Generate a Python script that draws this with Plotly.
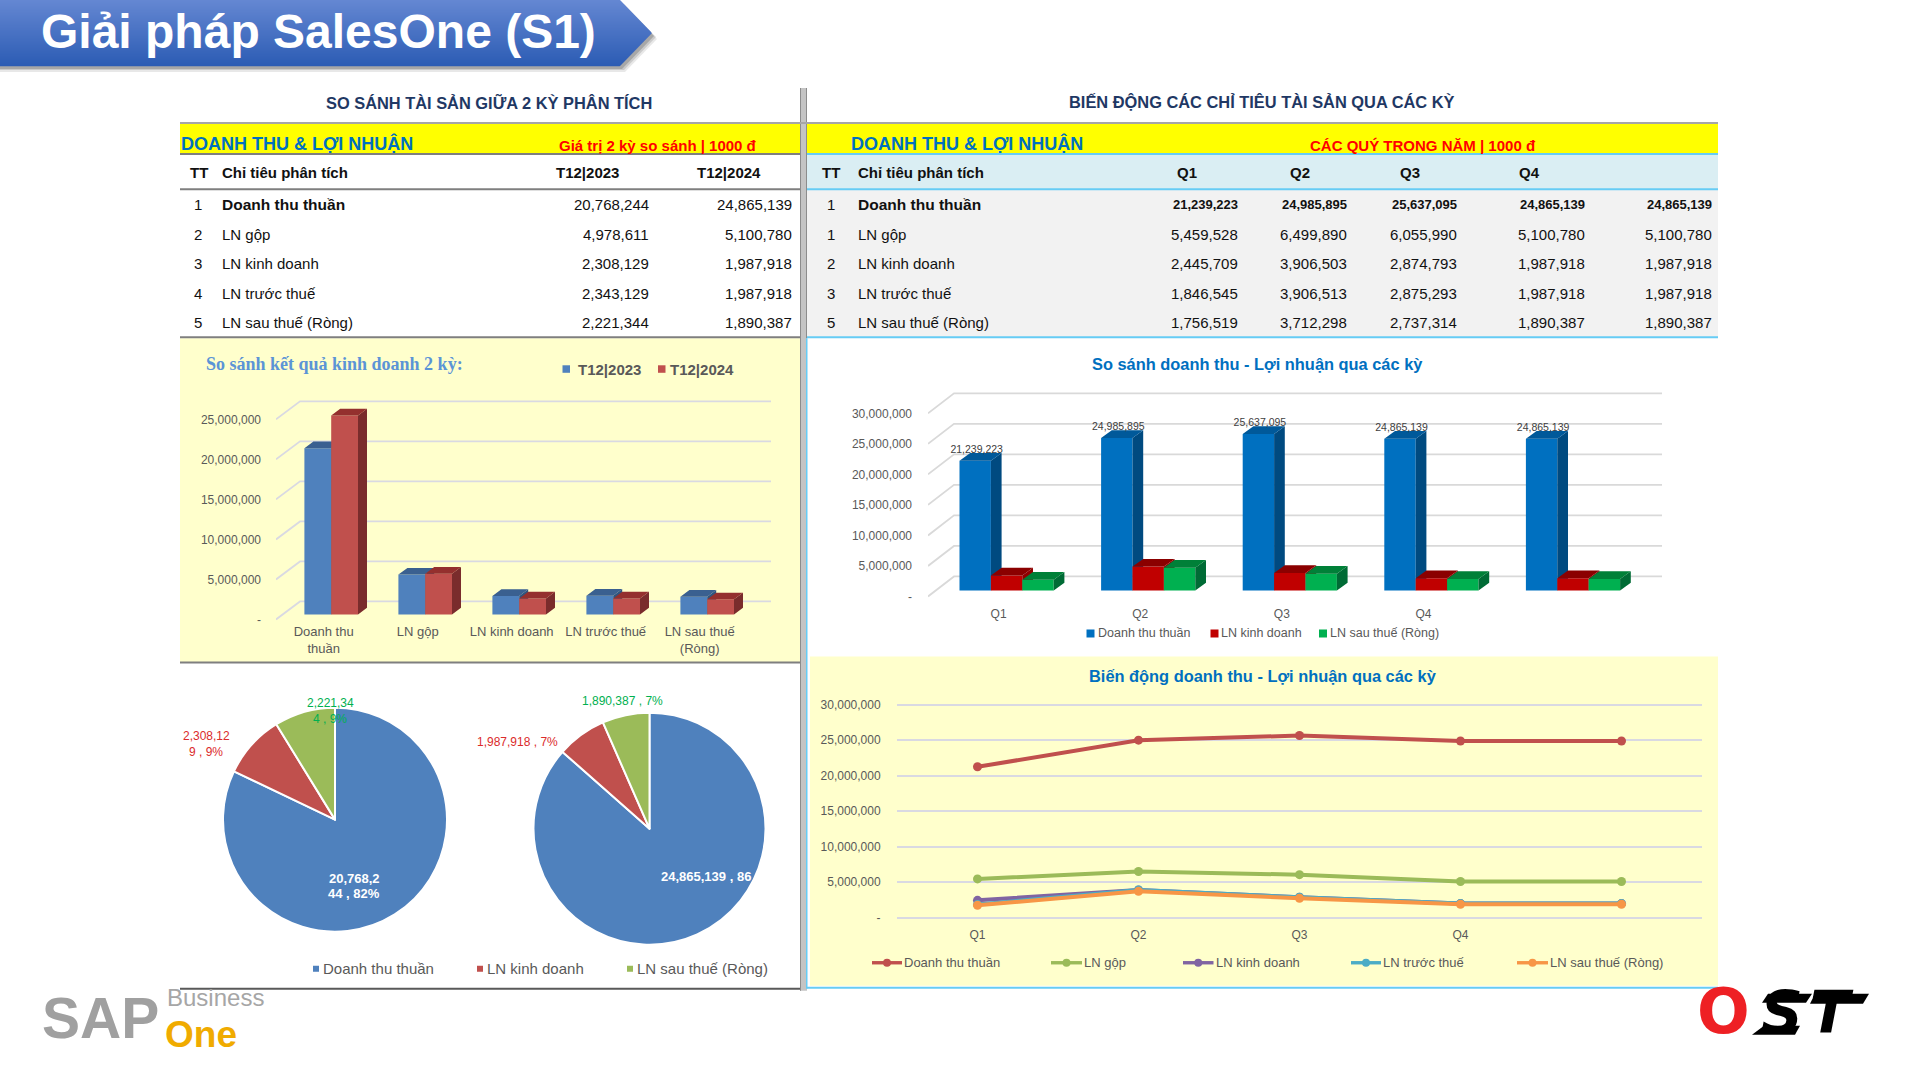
import plotly.graph_objects as go

# ---------- data ----------
PAGE_TITLE = "Giải pháp SalesOne (S1)"
LEFT_HEADING = "SO SÁNH TÀI SẢN GIỮA 2 KỲ PHÂN TÍCH"
RIGHT_HEADING = "BIẾN ĐỘNG CÁC CHỈ TIÊU TÀI SẢN QUA CÁC KỲ"
BAND_TITLE = "DOANH THU & LỢI NHUẬN"
LEFT_BAND_NOTE = "Giá trị 2 kỳ so sánh | 1000 đ"
RIGHT_BAND_NOTE = "CÁC QUÝ TRONG NĂM | 1000 đ"
METRICS = ["Doanh thu thuần", "LN gộp", "LN kinh doanh", "LN trước thuế", "LN sau thuế (Ròng)"]
LEFT_TT = ["1", "2", "3", "4", "5"]
RIGHT_TT = ["1", "1", "2", "3", "5"]
PERIODS = ["T12|2023", "T12|2024"]
T2023 = [20768244, 4978611, 2308129, 2343129, 2221344]
T2024 = [24865139, 5100780, 1987918, 1987918, 1890387]
QUARTERS = ["Q1", "Q2", "Q3", "Q4", ""]
DOANH_THU = [21239223, 24985895, 25637095, 24865139, 24865139]
LN_GOP = [5459528, 6499890, 6055990, 5100780, 5100780]
LN_KD = [2445709, 3906503, 2874793, 1987918, 1987918]
LN_TT = [1846545, 3906513, 2875293, 1987918, 1987918]
LN_ST = [1756519, 3712298, 2737314, 1890387, 1890387]
BAR_CATS = ["Doanh thu<br>thuần", "LN gộp", "LN kinh doanh", "LN trước thuế", "LN sau thuế<br>(Ròng)"]
TICKS_25 = [0, 5000000, 10000000, 15000000, 20000000, 25000000]
TICKS_30 = [0, 5000000, 10000000, 15000000, 20000000, 25000000, 30000000]
PIE_LABELS = ["Doanh thu thuần", "LN kinh doanh", "LN sau thuế (Ròng)"]
PIE_2023 = [20768244, 2308129, 2221344]
PIE_2024 = [24865139, 1987918, 1890387]
CHART_TITLE_A = "So sánh kết quả kinh doanh 2 kỳ:"
CHART_TITLE_B = "So sánh doanh thu - Lợi nhuận qua các kỳ"
CHART_TITLE_C = "Biến động doanh thu - Lợi nhuận qua các kỳ"

# ---------- helpers ----------
W, H = 1920, 1080
FONT = "Liberation Sans"
YS = 1.0045
def fx(x): return x / W
def fy(y): return 1 - y * YS / H
def fmt(v): return f"{v:,}"
def ticktext(vals): return ["-" if v == 0 else fmt(v) for v in vals]

shapes, annos = [], []
def rect(x0, y0, x1, y1, color, layer="below", opacity=1):
    shapes.append(dict(type="rect", xref="paper", yref="paper", x0=fx(x0), x1=fx(x1), y0=fy(y0), y1=fy(y1),
                       fillcolor=color, line=dict(width=0), layer=layer, opacity=opacity))
def hline(x0, x1, y, color, w=2):
    rect(x0, y - w / 2, x1, y + w / 2, color)
def txt(x, y, s, size=15, color="#111111", anchor="left", bold=False, family=FONT, italic=False):
    if bold: s = f"<b>{s}</b>"
    if italic: s = f"<i>{s}</i>"
    anchor = "center" if anchor == "middle" else anchor
    annos.append(dict(x=fx(x), y=fy(y), xref="paper", yref="paper", text=s, showarrow=False, xanchor=anchor,
                      yanchor="middle", borderpad=0, borderwidth=0, align=anchor,
                      font=dict(family=family, size=size, color=color)))
def poly(points, color, opacity=1, layer="below"):
    d = "M" + " L".join(f"{fx(px):.5f},{fy(py):.5f}" for px, py in points) + " Z"
    shapes.append(dict(type="path", xref="paper", yref="paper", path=d, fillcolor=color,
                       line=dict(width=0), opacity=opacity, layer=layer))

GRAY = "#7F7F7F"; SKY = "#66CCF5"; YEL = "#FFFFCC"

# ---------- banner ----------
def bx(y): return 652 - 32 * abs(y - 33) / 33
for ox, oy, op in [(5, 6, .12), (4, 4, .18), (2, 3, .25)]:
    poly([(0, oy), (620 + ox, oy), (652 + ox, 33 + oy), (620 + ox, 66 + oy), (0, 66 + oy)], "#404040", op)
c0, c1 = (100, 135, 210), (44, 92, 180)
for y in range(66):
    t = y / 65
    col = "rgb(%d,%d,%d)" % tuple(round(a + (b - a) * t) for a, b in zip(c0, c1))
    poly([(0, y), (bx(y), y), (bx(y + 1.3), y + 1.3), (0, y + 1.3)], col)
txt(41, 31, PAGE_TITLE, 48, "#FFFFFF", bold=True)

# ---------- panels ----------
rect(180, 124, 800, 153, "#FFFF00")
rect(807, 124, 1718, 153, "#FFFF00")
rect(807, 154, 1718, 189, "#DAEEF3")
rect(807, 189, 1718, 337, "#F2F2F2")
rect(180, 338, 800, 662, YEL)
rect(810, 656, 1718, 985, YEL)
rect(800, 88, 807, 990, "#C4C4C4")
rect(800, 88, 801, 990, "#8C8C8C")
rect(806, 88, 807, 338, "#8C8C8C")
rect(806, 338, 807.5, 988, SKY)
hline(180, 1718, 123, "#A6A6A6", 2)
hline(180, 800, 154, GRAY, 2)
hline(180, 800, 189, GRAY, 2)
hline(180, 800, 337, GRAY, 2)
hline(180, 800, 662, GRAY, 2)
hline(180, 800, 988, "#595959", 2)
hline(807, 1718, 154, SKY, 2)
hline(807, 1718, 189, SKY, 2)
hline(807, 1718, 337, SKY, 2)
hline(807, 1718, 987, SKY, 2)

# ---------- left table ----------
ROWS_Y = [204, 234, 263, 293, 322]
txt(489, 102, LEFT_HEADING, 16.4, "#1F3864", "middle", True)
txt(181, 143, BAND_TITLE, 18, "#0070C0", bold=True)
txt(559, 145, LEFT_BAND_NOTE, 15, "#FF0000", bold=True)
txt(199, 172, "TT", 15, anchor="middle", bold=True)
txt(222, 172, "Chỉ tiêu phân tích", 15, bold=True)
txt(587, 172, PERIODS[0], 15, anchor="middle", bold=True)
txt(729, 172, PERIODS[1], 15, anchor="middle", bold=True)
for i, y in enumerate(ROWS_Y):
    b = i == 0
    txt(198, y, LEFT_TT[i], 15, anchor="middle")
    txt(222, y, METRICS[i], 15.5 if b else 15, bold=b)
    txt(649, y, fmt(T2023[i]), 15, anchor="right")
    txt(792, y, fmt(T2024[i]), 15, anchor="right")

# ---------- right table ----------
txt(1262, 102, RIGHT_HEADING, 16.4, "#1F3864", "middle", True)
txt(851, 143, BAND_TITLE, 18, "#0070C0", bold=True)
txt(1310, 145, RIGHT_BAND_NOTE, 15, "#FF0000", bold=True)
txt(831, 172, "TT", 15, anchor="middle", bold=True)
txt(858, 172, "Chỉ tiêu phân tích", 15, bold=True)
for q, x in zip(QUARTERS[:4], [1187, 1300, 1410, 1529]):
    txt(x, 172, q, 15, anchor="middle", bold=True)
COL_R = [1238, 1347, 1457, 1585, 1712]
for i, (series, y) in enumerate(zip([DOANH_THU, LN_GOP, LN_KD, LN_TT, LN_ST], ROWS_Y)):
    b = i == 0
    txt(831, y, RIGHT_TT[i], 15, anchor="middle")
    txt(858, y, METRICS[i], 15.5 if b else 15, bold=b)
    for v, x in zip(series, COL_R):
        txt(x, y, fmt(v), 13 if b else 15, anchor="right", bold=b)

# ---------- chart titles ----------
txt(206, 364, CHART_TITLE_A, 18, "#5B94D6", bold=True, family="Liberation Serif")
txt(1257, 364, CHART_TITLE_B, 16.4, "#0070C0", "middle", True)
txt(1263, 675, CHART_TITLE_C, 16.4, "#0070C0", "middle", True)

fig = go.Figure()

def add_3d_series(xid, yid, centers_off, w, vals, dx, dv, front, top, side, name):
    xs_side, ys_side, xs_top, ys_top = [], [], [], []
    for i, v in enumerate(vals):
        x0 = i + centers_off; x1 = x0 + w
        xs_side += [x1, x1 + dx, x1 + dx, x1, x1, None]
        ys_side += [0, dv, v + dv, v, 0, None]
        xs_top += [x0, x0 + dx, x1 + dx, x1, x0, None]
        ys_top += [v, v + dv, v + dv, v, v, None]
    fig.add_trace(go.Bar(x=list(range(len(vals))), y=vals, width=w, offset=centers_off, marker=dict(color=front, line=dict(width=0)),
                         name=name, xaxis=xid, yaxis=yid, showlegend=False))
    for xs, ys, col in [(xs_side, ys_side, side), (xs_top, ys_top, top)]:
        fig.add_trace(go.Scatter(x=xs, y=ys, mode="lines", fill="toself", fillcolor=col, line=dict(width=0),
                                 xaxis=xid, yaxis=yid, showlegend=False, hoverinfo="skip"))

def add_wall(xid, yid, ticks, lo, hi, back_offset, drop, color):
    xs, ys = [], []
    for v in ticks:
        xs += [lo, lo + back_offset, hi, None]
        ys += [v - drop, v, v, None]
    fig.add_trace(go.Scatter(x=xs, y=ys, mode="lines", line=dict(color=color, width=1.8), xaxis=xid, yaxis=yid,
                             showlegend=False, hoverinfo="skip"))

def axis_range(zero_px, bottom_px, top_px, scale):
    return [(zero_px - bottom_px) / scale, (zero_px - top_px) / scale]

axfont = dict(family=FONT, size=12, color="#595959")
GRID = "#D9D9E2"
hidden = dict(showgrid=False, zeroline=False, showticklabels=False, ticks="", showline=False)

# ---------- chart A: 3D columns ----------
A = dict(left=276, back=300, right=771, top=385, bottom=622, zero_back=601, zero_label=619, zero_bar=614, S=8e-6,
         step=94.0, c0=331.2, barw=26.8, dxpx=9.0, dypx=6.7)
ax_lo = (A["left"] - A["c0"]) / A["step"]; ax_hi = (A["right"] - A["c0"]) / A["step"]
wA = A["barw"] / A["step"]
add_wall("x", "y", TICKS_25, ax_lo, ax_hi, (A["back"] - A["left"]) / A["step"], (A["zero_label"] - A["zero_back"]) / A["S"], GRID)
fig.add_trace(go.Scatter(x=[0], y=[0], mode="markers", marker=dict(opacity=0), xaxis="x", yaxis="y2", showlegend=False, hoverinfo="skip"))
add_3d_series("x", "y3", -wA, wA, T2023, A["dxpx"] / A["step"], A["dypx"] / A["S"], "#4F81BD", "#3A6090", "#2F5580", PERIODS[0])
add_3d_series("x", "y4", 0, wA, T2024, A["dxpx"] / A["step"], A["dypx"] / A["S"], "#C0504D", "#94302E", "#7A2C2C", PERIODS[1])

layout = dict(
    xaxis=dict(domain=[fx(A["left"]), fx(A["right"])], range=[ax_lo, ax_hi], anchor="y",
               tickmode="array", tickvals=[i - 0.08 for i in range(5)], ticktext=BAR_CATS, showgrid=False, zeroline=False,
               showline=False, ticks="", tickangle=0,
               tickfont=dict(family=FONT, size=13, color="#595959")),
    yaxis=dict(domain=[fy(A["bottom"]), fy(A["top"])], range=axis_range(A["zero_back"], A["bottom"], A["top"], A["S"]), anchor="x", **hidden),
    yaxis2=dict(overlaying="y", anchor="free", position=fx(261), range=axis_range(A["zero_label"], A["bottom"], A["top"], A["S"]),
                tickmode="array", tickvals=TICKS_25, ticktext=ticktext(TICKS_25), tickfont=axfont, showgrid=False, zeroline=False, ticks="", showline=False),
    yaxis3=dict(overlaying="y", anchor="x", range=axis_range(A["zero_bar"], A["bottom"], A["top"], A["S"]), **hidden),
    yaxis4=dict(overlaying="y", anchor="x", range=axis_range(A["zero_bar"], A["bottom"], A["top"], A["S"]), **hidden),
)
txt(578, 369, PERIODS[0], 15, "#595959", bold=True)
txt(670, 369, PERIODS[1], 15, "#595959", bold=True)
rect(562.5, 365, 570, 372.5, "#4F81BD", "above")
rect(658, 365, 665.5, 372.5, "#C0504D", "above")

# ---------- chart B: 3D columns ----------
B = dict(left=928, back=954, right=1662, top=385, bottom=600, zero_back=576, zero_label=596, zero_bar=590, S=6.1e-6,
         step=141.6, c0=1006.6, barw=31.4, dxpx=10.7, dypx=7.7)
bx_lo = (B["left"] - B["c0"]) / B["step"]; bx_hi = (B["right"] - B["c0"]) / B["step"]
wB = B["barw"] / B["step"]
ddx = B["dxpx"] / B["step"]; ddv = B["dypx"] / B["S"]
add_wall("x2", "y5", TICKS_30, bx_lo, bx_hi, (B["back"] - B["left"]) / B["step"], (B["zero_label"] - B["zero_back"]) / B["S"], "#D9D9D9")
fig.add_trace(go.Scatter(x=[0], y=[0], mode="markers", marker=dict(opacity=0), xaxis="x2", yaxis="y6", showlegend=False, hoverinfo="skip"))
add_3d_series("x2", "y7", -1.5 * wB, wB, DOANH_THU, ddx, ddv, "#0070C0", "#00599A", "#004A80", METRICS[0])
add_3d_series("x2", "y8", -0.5 * wB, wB, LN_KD, ddx, ddv, "#C00000", "#8B0000", "#900000", METRICS[2])
add_3d_series("x2", "y9", 0.5 * wB, wB, LN_ST, ddx, ddv, "#00B050", "#008038", "#006B35", METRICS[4])
# value labels above the blue columns
fig.add_trace(go.Scatter(x=[i - wB + 1.5 / B["step"] for i in range(5)], y=[v + 5 / B["S"] for v in DOANH_THU], text=[fmt(v) for v in DOANH_THU],
                         mode="text", textposition="top center", textfont=dict(family=FONT, size=10.5, color="#404040"),
                         xaxis="x2", yaxis="y9", showlegend=False, hoverinfo="skip", cliponaxis=False))
layout.update(
    xaxis2=dict(domain=[fx(B["left"]), fx(B["right"])], range=[bx_lo, bx_hi], anchor="y5",
                tickmode="array", tickvals=[i - 8 / B["step"] for i in range(5)], ticktext=QUARTERS, showgrid=False, zeroline=False,
                showline=False, ticks="outside", ticklen=2, tickcolor="rgba(0,0,0,0)", tickfont=axfont),
    yaxis5=dict(domain=[fy(B["bottom"]), fy(B["top"])], range=axis_range(B["zero_back"], B["bottom"], B["top"], B["S"]), anchor="x2", **hidden),
    yaxis6=dict(overlaying="y5", anchor="free", position=fx(912), range=axis_range(B["zero_label"], B["bottom"], B["top"], B["S"]),
                tickmode="array", tickvals=TICKS_30, ticktext=ticktext(TICKS_30), tickfont=axfont, showgrid=False, zeroline=False, ticks="", showline=False),
    yaxis7=dict(overlaying="y5", anchor="x2", range=axis_range(B["zero_bar"], B["bottom"], B["top"], B["S"]), **hidden),
    yaxis8=dict(overlaying="y5", anchor="x2", range=axis_range(B["zero_bar"], B["bottom"], B["top"], B["S"]), **hidden),
    yaxis9=dict(overlaying="y5", anchor="x2", range=axis_range(B["zero_bar"], B["bottom"], B["top"], B["S"]), **hidden),
)
for mx, tx, s, col in [(1090.5, 1098, METRICS[0], "#0070C0"), (1214.5, 1221, METRICS[2], "#C00000"), (1323, 1330, METRICS[4], "#00B050")]:
    rect(mx - 4, 629, mx + 4, 637, col, "above")
    txt(tx, 633, s, 12.5, "#595959")

# ---------- chart C: lines ----------
C = dict(left=897, right=1702, top=695, bottom=920.5, zero=917, S=7.1e-6)
LINE_COLORS = ["#C0504D", "#9BBB59", "#8064A2", "#4BACC6", "#F79646"]
for s, name, col in zip([DOANH_THU, LN_GOP, LN_KD, LN_TT, LN_ST], METRICS, LINE_COLORS):
    fig.add_trace(go.Scatter(x=list(range(5)), y=s, mode="lines+markers", name=name, line=dict(color=col, width=4),
                             marker=dict(color=col, size=9), xaxis="x3", yaxis="y10", showlegend=False))
layout.update(
    xaxis3=dict(domain=[fx(C["left"]), fx(C["right"])], range=[-0.5, 4.5], anchor="y10", tickmode="array", tickvals=list(range(5)),
                ticktext=QUARTERS, showgrid=False, zeroline=False, showline=False, ticks="outside", ticklen=2,
                tickcolor="rgba(0,0,0,0)", tickfont=axfont),
    yaxis10=dict(domain=[fy(C["bottom"]), fy(C["top"])], range=axis_range(C["zero"], C["bottom"], C["top"], C["S"]), anchor="x3",
                 tickmode="array", tickvals=TICKS_30, ticktext=ticktext(TICKS_30), tickfont=axfont, showgrid=True, gridcolor=GRID, gridwidth=2,
                 zeroline=False, showline=False, ticks="outside", ticklen=13, tickcolor="rgba(0,0,0,0)"),
)
for x0, x1, tx, name, col in [(872, 902, 904, METRICS[0], LINE_COLORS[0]), (1051, 1082, 1084, METRICS[1], LINE_COLORS[1]),
                              (1183, 1213.5, 1216, METRICS[2], LINE_COLORS[2]), (1351, 1381, 1383, METRICS[3], LINE_COLORS[3]),
                              (1517, 1548, 1550, METRICS[4], LINE_COLORS[4])]:
    rect(x0, 960.3, x1, 963.7, col, "above")
    m = (x0 + x1) / 2
    shapes.append(dict(type="circle", xref="paper", yref="paper", x0=fx(m - 4), x1=fx(m + 4), y0=fy(966), y1=fy(958),
                       fillcolor=col, line=dict(width=0), layer="above"))
    txt(tx, 962, name, 13, "#595959")

# ---------- pies ----------
PIE_COLORS = ["#4F81BD", "#C0504D", "#9BBB59"]
for vals, cx, cy, r, nm in [(PIE_2023, 335, 819, 112, PERIODS[0]), (PIE_2024, 649.5, 828, 116, PERIODS[1])]:
    fig.add_trace(go.Pie(labels=PIE_LABELS, values=vals, sort=False, direction="clockwise", rotation=0, textinfo="none",
                         marker=dict(colors=PIE_COLORS, line=dict(color="#FFFFFF", width=2)), showlegend=False, name=nm,
                         domain=dict(x=[fx(cx - r), fx(cx + r)], y=[fy(cy + r), fy(cy - r)])))
RED_T = "#DB2B2B"; GRN_T = "#00B050"
txt(330, 702, "2,221,34", 12, GRN_T, "middle"); txt(330, 718, "4 , 9%", 12, GRN_T, "middle")
txt(206, 735, "2,308,12", 12, RED_T, "middle"); txt(206, 751, "9 , 9%", 12, RED_T, "middle")
txt(354, 878, "20,768,2", 13, "#FFFFFF", "middle", True); txt(354, 893, "44 , 82%", 13, "#FFFFFF", "middle", True)
txt(622, 700, "1,890,387 , 7%", 12, GRN_T, "middle")
txt(517, 741, "1,987,918 , 7%", 12, RED_T, "middle")
txt(661, 876, "24,865,139 , 86", 13, "#FFFFFF", bold=True)
for mx, tx, name, col in [(316, 323, PIE_LABELS[0], PIE_COLORS[0]), (480, 487, PIE_LABELS[1], PIE_COLORS[1]), (630, 637, PIE_LABELS[2], PIE_COLORS[2])]:
    rect(mx - 3, 965, mx + 3, 971, col, "above")
    txt(tx, 968, name, 15, "#595959")

# ---------- logos ----------
txt(42, 1017, "SAP", 57, "#A0A0A0", bold=True)
txt(167, 997, "Business", 24, "#A6A6A6")
txt(165, 1034, "One", 37, "#F0AB00", bold=True)
txt(1723, 1011, "O", 62, "#EE2024", "middle", True, "DejaVu Sans")
txt(1782, 1012, "S", 58, "#000000", "middle", True, "DejaVu Sans", True)
txt(1832, 1012, "T", 58, "#000000", "middle", True, "DejaVu Sans", True)
poly([(1815, 993), (1869, 993), (1863, 1003), (1810, 1003)], "#000000")
poly([(1764, 1025), (1800, 1025), (1795, 1034), (1752, 1034)], "#000000")
poly([(1768, 993), (1812, 993), (1806, 1002), (1762, 1002)], "#000000")

fig.update_layout(width=W, height=H, autosize=False, margin=dict(l=0, r=0, t=0, b=0, pad=0), paper_bgcolor="#FFFFFF",
                  plot_bgcolor="rgba(0,0,0,0)", showlegend=False, shapes=shapes, annotations=annos, barmode="overlay",
                  font=dict(family=FONT), **layout)
fig.write_html("out.html", config=dict(displayModeBar=False),
               post_script="document.documentElement.style.margin='0';document.body.style.margin='0';document.body.style.overflow='hidden';"
                           "var g=document.querySelector('.plotly-graph-div');g.style.position='fixed';g.style.left='0';g.style.top='0';")
